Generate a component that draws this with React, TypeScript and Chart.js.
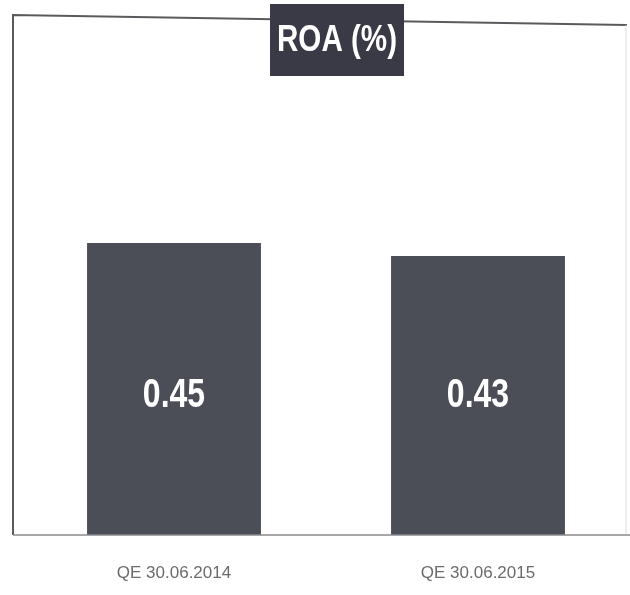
import React, { useEffect, useRef } from "react";
import { Chart, registerables } from "chart.js";

Chart.register(...registerables);

const categories = ["QE 30.06.2014", "QE 30.06.2015"];
const roaValues = [0.45, 0.43];
const valueLabels = ["0.45", "0.43"];
const chartTitle = "ROA (%)";

const FONT = "'Liberation Sans', Arial, sans-serif";

function narrowText(ctx: any, text: string, x: number, y: number, squeeze: number) {
  ctx.save();
  ctx.translate(x, y);
  ctx.scale(squeeze, 1);
  ctx.fillText(text, 0, 0);
  ctx.restore();
}

const frameAndTitle = {
  id: "frameAndTitle",
  afterDatasetsDraw(chart: any) {
    const { ctx, chartArea } = chart;
    const { left, right, top, bottom } = chartArea;
    const fx = left - 9;
    ctx.save();
    // frame
    ctx.strokeStyle = "#5a5a5e";
    ctx.lineWidth = 2;
    ctx.beginPath();
    ctx.moveTo(fx, bottom);
    ctx.lineTo(fx, top - 1);
    ctx.lineTo(right - 3, top + 9);
    ctx.stroke();
    ctx.strokeStyle = "#dedede";
    ctx.lineWidth = 1;
    ctx.beginPath();
    ctx.moveTo(right - 4, top + 9);
    ctx.lineTo(right - 4, bottom);
    ctx.stroke();
    ctx.strokeStyle = "#8a8a8e";
    ctx.lineWidth = 1.5;
    ctx.beginPath();
    ctx.moveTo(fx, bottom);
    ctx.lineTo(right, bottom);
    ctx.stroke();
    // value labels inside bars
    const meta = chart.getDatasetMeta(0);
    const labelY = chart.scales.y.getPixelForValue(0.215);
    ctx.fillStyle = "#ffffff";
    ctx.font = "bold 40px " + FONT;
    ctx.textAlign = "center";
    ctx.textBaseline = "middle";
    meta.data.forEach((bar: any, i: number) => {
      narrowText(ctx, valueLabels[i], bar.x, labelY, 0.8);
    });
    // title box
    const cx = (left + right) / 2 + 11;
    ctx.fillStyle = "#393a46";
    ctx.fillRect(cx - 67, 4, 134, 72);
    ctx.fillStyle = "#ffffff";
    ctx.font = "bold 37px " + FONT;
    narrowText(ctx, chartTitle, cx, 41, 0.8);
    ctx.restore();
  },
};

export default function App() {
  const canvasRef = useRef<HTMLCanvasElement>(null);
  useEffect(() => {
    if (!canvasRef.current) return;
    const chart = new Chart(canvasRef.current, {
      type: "bar",
      data: {
        labels: categories,
        datasets: [
          {
            data: roaValues,
            backgroundColor: "#4b4d57",
            barPercentage: 0.572,
            categoryPercentage: 1,
          },
        ],
      },
      options: {
        animation: false,
        responsive: false,
        layout: { padding: { top: 16, left: 22, right: 0, bottom: 12 } },
        plugins: {
          legend: { display: false },
          title: { display: false },
          tooltip: { enabled: false },
        },
        scales: {
          y: { display: false, min: 0, max: 0.8 },
          x: {
            grid: { display: false, drawTicks: false },
            border: { display: false },
            afterFit: (scale: any) => {
              scale.height = 48;
            },
            ticks: {
              padding: 28,
              color: "#6b6b6b",
              font: { size: 17, family: FONT },
            },
          },
        },
      },
      plugins: [frameAndTitle],
    });
    return () => chart.destroy();
  }, []);
  return (
    <div style={{ position: "absolute", left: 0, top: 0, width: 630, height: 595, background: "#fff" }}>
      <canvas ref={canvasRef} width={630} height={595} style={{ display: "block" }} />
    </div>
  );
}
